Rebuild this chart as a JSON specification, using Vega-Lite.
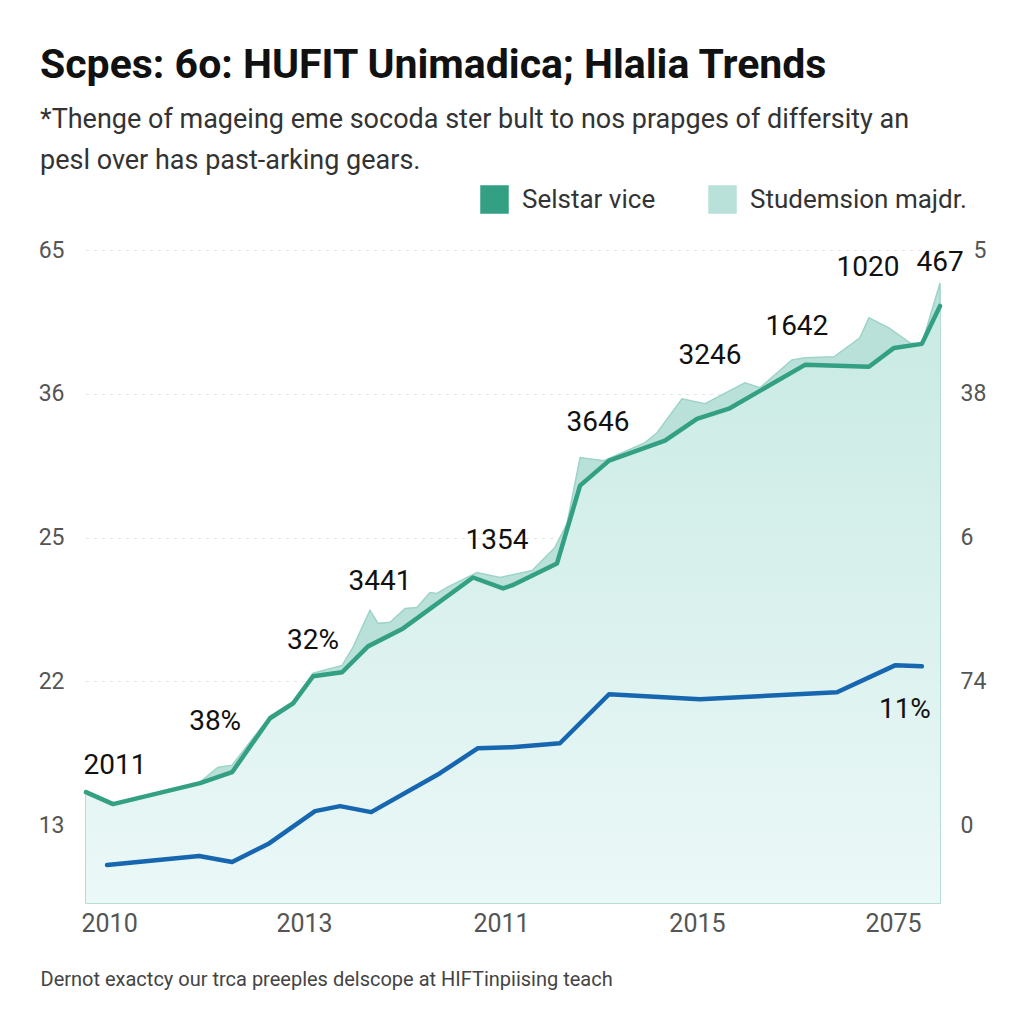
{
  "$schema": "https://vega.github.io/schema/vega-lite/v6.json",
  "autosize": "none",
  "width": 857,
  "height": 653,
  "padding": {"left": 85, "top": 250, "right": 82, "bottom": 121},
  "background": "white",
  "config": {
    "view": {"stroke": null},
    "font": "Roboto"
  },
  "title": {
    "text": "Scpes: 6o: HUFIT Unimadica; Hlalia Trends",
    "subtitle": ["*Thenge of mageing eme socoda ster bult to nos prapges of differsity an", "pesl over has past-arking gears."],
    "anchor": "start",
    "frame": "group",
    "dx": -45,
    "offset": 10,
    "font": "Roboto",
    "fontSize": 41,
    "fontWeight": "bold",
    "color": "#111111",
    "subtitleFont": "Roboto",
    "subtitleFontSize": 27,
    "subtitleColor": "#333333",
    "subtitlePadding": 20,
    "subtitleLineHeight": 41
  },
  "datasets": {
    "green": [
      {"year": 2009.878, "value": 0.229, "series": "Selstar vice"},
      {"year": 2010.015, "value": 0.146, "series": "Selstar vice"},
      {"year": 2010.456, "value": 0.292, "series": "Selstar vice"},
      {"year": 2010.618, "value": 0.368, "series": "Selstar vice"},
      {"year": 2010.810, "value": 0.743, "series": "Selstar vice"},
      {"year": 2010.927, "value": 0.847, "series": "Selstar vice"},
      {"year": 2011.028, "value": 1.035, "series": "Selstar vice"},
      {"year": 2011.175, "value": 1.063, "series": "Selstar vice"},
      {"year": 2011.306, "value": 1.243, "series": "Selstar vice"},
      {"year": 2011.484, "value": 1.368, "series": "Selstar vice"},
      {"year": 2011.838, "value": 1.722, "series": "Selstar vice"},
      {"year": 2011.990, "value": 1.646, "series": "Selstar vice"},
      {"year": 2012.035, "value": 1.667, "series": "Selstar vice"},
      {"year": 2012.263, "value": 1.819, "series": "Selstar vice"},
      {"year": 2012.380, "value": 2.361, "series": "Selstar vice"},
      {"year": 2012.527, "value": 2.535, "series": "Selstar vice"},
      {"year": 2012.810, "value": 2.674, "series": "Selstar vice"},
      {"year": 2012.972, "value": 2.826, "series": "Selstar vice"},
      {"year": 2013.134, "value": 2.896, "series": "Selstar vice"},
      {"year": 2013.519, "value": 3.201, "series": "Selstar vice"},
      {"year": 2013.843, "value": 3.188, "series": "Selstar vice"},
      {"year": 2013.970, "value": 3.319, "series": "Selstar vice"},
      {"year": 2014.111, "value": 3.347, "series": "Selstar vice"},
      {"year": 2014.203, "value": 3.611, "series": "Selstar vice"}
    ],
    "edge": [
      {"year": 2009.878, "value": 0.229, "series": "Studemsion majdr."},
      {"year": 2010.015, "value": 0.146, "series": "Studemsion majdr."},
      {"year": 2010.456, "value": 0.299, "series": "Studemsion majdr."},
      {"year": 2010.547, "value": 0.403, "series": "Studemsion majdr."},
      {"year": 2010.618, "value": 0.417, "series": "Studemsion majdr."},
      {"year": 2010.810, "value": 0.757, "series": "Studemsion majdr."},
      {"year": 2010.927, "value": 0.861, "series": "Studemsion majdr."},
      {"year": 2011.028, "value": 1.056, "series": "Studemsion majdr."},
      {"year": 2011.175, "value": 1.111, "series": "Studemsion majdr."},
      {"year": 2011.230, "value": 1.236, "series": "Studemsion majdr."},
      {"year": 2011.316, "value": 1.493, "series": "Studemsion majdr."},
      {"year": 2011.357, "value": 1.403, "series": "Studemsion majdr."},
      {"year": 2011.418, "value": 1.410, "series": "Studemsion majdr."},
      {"year": 2011.494, "value": 1.507, "series": "Studemsion majdr."},
      {"year": 2011.554, "value": 1.514, "series": "Studemsion majdr."},
      {"year": 2011.620, "value": 1.618, "series": "Studemsion majdr."},
      {"year": 2011.656, "value": 1.611, "series": "Studemsion majdr."},
      {"year": 2011.706, "value": 1.653, "series": "Studemsion majdr."},
      {"year": 2011.858, "value": 1.757, "series": "Studemsion majdr."},
      {"year": 2011.975, "value": 1.722, "series": "Studemsion majdr."},
      {"year": 2012.137, "value": 1.771, "series": "Studemsion majdr."},
      {"year": 2012.253, "value": 1.931, "series": "Studemsion majdr."},
      {"year": 2012.314, "value": 2.097, "series": "Studemsion majdr."},
      {"year": 2012.380, "value": 2.556, "series": "Studemsion majdr."},
      {"year": 2012.501, "value": 2.535, "series": "Studemsion majdr."},
      {"year": 2012.709, "value": 2.660, "series": "Studemsion majdr."},
      {"year": 2012.770, "value": 2.729, "series": "Studemsion majdr."},
      {"year": 2012.896, "value": 2.965, "series": "Studemsion majdr."},
      {"year": 2013.013, "value": 2.931, "series": "Studemsion majdr."},
      {"year": 2013.215, "value": 3.076, "series": "Studemsion majdr."},
      {"year": 2013.291, "value": 3.042, "series": "Studemsion majdr."},
      {"year": 2013.453, "value": 3.236, "series": "Studemsion majdr."},
      {"year": 2013.519, "value": 3.250, "series": "Studemsion majdr."},
      {"year": 2013.666, "value": 3.257, "series": "Studemsion majdr."},
      {"year": 2013.797, "value": 3.389, "series": "Studemsion majdr."},
      {"year": 2013.843, "value": 3.528, "series": "Studemsion majdr."},
      {"year": 2013.944, "value": 3.458, "series": "Studemsion majdr."},
      {"year": 2014.051, "value": 3.354, "series": "Studemsion majdr."},
      {"year": 2014.111, "value": 3.347, "series": "Studemsion majdr."},
      {"year": 2014.203, "value": 3.771, "series": "Studemsion majdr."}
    ],
    "blue": [
      {"year": 2009.985, "value": -0.278},
      {"year": 2010.451, "value": -0.215},
      {"year": 2010.618, "value": -0.257},
      {"year": 2010.800, "value": -0.132},
      {"year": 2011.038, "value": 0.097},
      {"year": 2011.165, "value": 0.132},
      {"year": 2011.322, "value": 0.090},
      {"year": 2011.671, "value": 0.361},
      {"year": 2011.863, "value": 0.535},
      {"year": 2012.035, "value": 0.542},
      {"year": 2012.278, "value": 0.569},
      {"year": 2012.527, "value": 0.910},
      {"year": 2012.987, "value": 0.875},
      {"year": 2013.681, "value": 0.924},
      {"year": 2013.975, "value": 1.111},
      {"year": 2014.111, "value": 1.104}
    ],
    "labels": [
      {"year": 2010.025, "value": 0.410, "label": "2011"},
      {"year": 2010.532, "value": 0.715, "label": "38%"},
      {"year": 2011.028, "value": 1.278, "label": "32%"},
      {"year": 2011.367, "value": 1.694, "label": "3441"},
      {"year": 2011.959, "value": 1.979, "label": "1354"},
      {"year": 2012.471, "value": 2.799, "label": "3646"},
      {"year": 2013.038, "value": 3.264, "label": "3246"},
      {"year": 2013.478, "value": 3.465, "label": "1642"},
      {"year": 2013.838, "value": 3.875, "label": "1020"},
      {"year": 2014.203, "value": 3.910, "label": "467"},
      {"year": 2014.025, "value": 0.799, "label": "11%"}
    ]
  },
  "encoding": {
    "x": {
      "field": "year", "type": "quantitative",
      "scale": {"domain": [2009.873, 2014.213], "nice": false, "zero": false},
      "axis": {
        "values": [2009.995, 2010.982, 2011.98, 2012.972, 2013.965],
        "labelExpr": "datum.value < 2010.5 ? '2010' : datum.value < 2011.5 ? '2013' : datum.value < 2012.5 ? '2011' : datum.value < 2013.5 ? '2015' : '2075'",
        "domain": false, "ticks": false, "grid": false,
        "labelFont": "Roboto", "labelFontSize": 25, "labelColor": "#555555",
        "labelPadding": 8, "labelFlush": false,
        "title": "Dernot exactcy our trca preeples delscope at HIFTinpiising teach",
        "titleAnchor": "start", "titleAlign": "left", "titleX": -45, "titleY": 82,
        "titleBaseline": "alphabetic", "titleFont": "Roboto", "titleFontSize": 20,
        "titleFontWeight": "normal", "titleColor": "#444444"
      }
    }
  },
  "resolve": {"axis": {"y": "independent"}},
  "layer": [
    {
      "data": {"name": "edge"},
      "mark": {"type": "area", "stroke": "#9ed4c8", "strokeWidth": 1.5, "opacity": 1},
      "encoding": {
        "y": {
          "field": "value", "type": "quantitative",
          "scale": {"domain": [-0.542, 4], "nice": false, "zero": false},
          "axis": {
            "orient": "left",
            "values": [0, 1, 2, 3, 4],
            "labelExpr": "datum.value == 0 ? '13' : datum.value == 1 ? '22' : datum.value == 2 ? '25' : datum.value == 3 ? '36' : '65'",
            "domain": false, "ticks": false,
            "grid": true, "gridColor": "#e8e8e8", "gridDash": [4, 4], "gridWidth": 1,
            "labelFont": "Roboto", "labelFontSize": 23, "labelColor": "#555555",
            "labelPadding": 21, "title": null
          }
        },
        "y2": {"datum": -0.542},
        "color": {
          "field": "series", "type": "nominal",
          "scale": {"domain": ["Selstar vice", "Studemsion majdr."], "range": ["#33a084", "#b9e1d9"]},
          "legend": {
            "values": ["Selstar vice", "Studemsion majdr."],
            "orient": "none", "legendX": 395, "legendY": -65,
            "direction": "horizontal", "title": null,
            "symbolType": "square", "symbolSize": 729,
            "labelFont": "Roboto", "labelFontSize": 26, "labelColor": "#333333",
            "labelOffset": 13, "labelLimit": 400, "columnPadding": 50, "padding": 0,
            "encode": {
              "symbols": {
                "update": {
                  "fill": {"scale": "color", "field": "value"},
                  "stroke": {"value": "transparent"},
                  "opacity": {"value": 1}
                }
              }
            }
          }
        }
      }
    },
    {
      "data": {"name": "green"},
      "mark": {
        "type": "area",
        "fill": {
          "gradient": "linear", "x1": 0, "y1": 0, "x2": 0, "y2": 1,
          "stops": [
            {"offset": 0, "color": "#c9eae3"},
            {"offset": 1, "color": "#ebf8f8"}
          ]
        }
      },
      "encoding": {
        "y": {"field": "value", "type": "quantitative", "axis": null},
        "y2": {"datum": -0.542}
      }
    },
    {
      "data": {"name": "green"},
      "mark": {"type": "line", "strokeWidth": 4.5, "strokeJoin": "round", "strokeCap": "round"},
      "encoding": {
        "y": {"field": "value", "type": "quantitative", "axis": null},
        "color": {
          "field": "series", "type": "nominal",
          "legend": {
            "values": ["Selstar vice", "Studemsion majdr."],
            "orient": "none", "legendX": 395, "legendY": -65,
            "direction": "horizontal", "title": null,
            "symbolType": "square", "symbolSize": 729,
            "labelFont": "Roboto", "labelFontSize": 26, "labelColor": "#333333",
            "labelOffset": 13, "labelLimit": 400, "columnPadding": 50, "padding": 0,
            "encode": {
              "symbols": {
                "update": {
                  "fill": {"scale": "color", "field": "value"},
                  "stroke": {"value": "transparent"},
                  "opacity": {"value": 1}
                }
              }
            }
          }
        }
      }
    },
    {
      "data": {"name": "blue"},
      "mark": {"type": "line", "color": "#1766b0", "strokeWidth": 4.5, "strokeJoin": "round", "strokeCap": "round"},
      "encoding": {
        "y": {
          "field": "value", "type": "quantitative",
          "axis": {
            "orient": "right",
            "values": [0, 1, 2, 3, 4],
            "labelExpr": "datum.value == 0 ? '0' : datum.value == 1 ? '74' : datum.value == 2 ? '6' : datum.value == 3 ? '38' : '5'",
            "domain": false, "ticks": false, "grid": false,
            "labelFont": "Roboto", "labelFontSize": 23, "labelColor": "#555555",
            "labelPadding": {"condition": {"test": "datum.value == 4", "value": 31}, "value": 18},
            "title": null
          }
        }
      }
    },
    {
      "data": {"name": "labels"},
      "mark": {"type": "text", "font": "Roboto", "fontSize": 28, "color": "#111111", "align": "center", "baseline": "middle"},
      "encoding": {
        "y": {"field": "value", "type": "quantitative", "axis": null},
        "text": {"field": "label"}
      }
    }
  ]
}
